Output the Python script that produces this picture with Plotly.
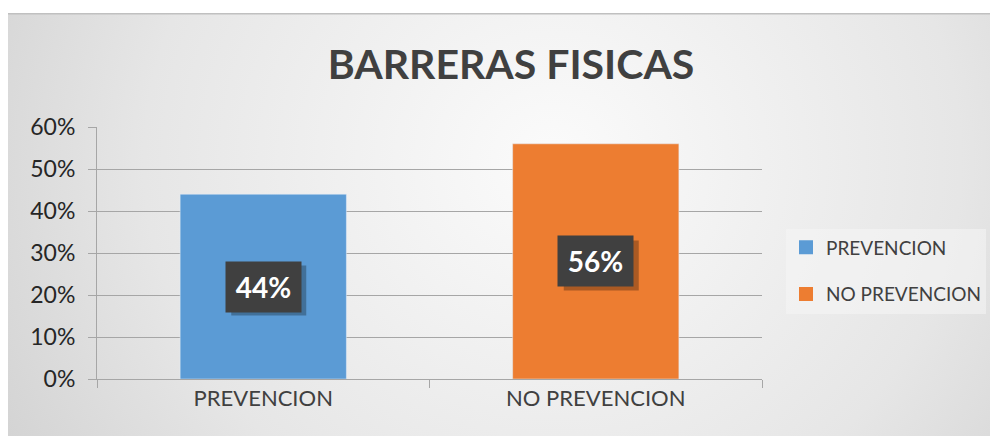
import plotly.graph_objects as go

categories = ["PREVENCION", "NO PREVENCION"]
values = [0.44, 0.56]
colors = ["#5B9BD5", "#ED7D31"]
y_ticks = [0, 0.1, 0.2, 0.3, 0.4, 0.5, 0.6]
y_tick_labels = ["0%", "10%", "20%", "30%", "40%", "50%", "60%"]
title_text = "BARRERAS FISICAS"

# the page has an 8px body margin, so the figure is drawn at (8, 8)
OFF = 8
W, H = 998 - OFF, 436 - OFF
L, R, T, B = 97 - OFF, 998 - 762, 127 - OFF, 436 - 379
pw, ph = W - L - R, H - T - B

fig = go.Figure()
for cat, val, col in zip(categories, values, colors):
    fig.add_trace(go.Bar(x=[cat], y=[val], name=cat, marker_color=col,
                         width=0.5, showlegend=False, hoverinfo="skip"))
# legend entries with larger square swatches
for cat, col in zip(categories, colors):
    fig.add_trace(go.Scatter(x=[None], y=[None], mode="markers", name=cat, legendgroup=cat,
                             marker=dict(symbol="square", size=14, color=col), hoverinfo="skip"))

# label boxes with shadow
for cat, val in zip(categories, values):
    fig.add_shape(type="rect", xref="x", yref="y", xsizemode="pixel", ysizemode="pixel",
                  xanchor=cat, yanchor=val / 2, x0=-32, x1=43, y0=-29, y1=21,
                  fillcolor="rgba(0,0,0,0.28)", line_width=0, layer="above")
    fig.add_annotation(x=cat, y=val / 2, xref="x", yref="y", text=f"<b>{round(val*100)}%</b>",
                       showarrow=False, width=73, height=48, bgcolor="#404040",
                       font=dict(family="Lato", size=28, color="white"))

svg = ("data:image/svg+xml;utf8,"
       "<svg xmlns='http://www.w3.org/2000/svg' width='990' height='423' viewBox='0 0 990 423' preserveAspectRatio='none'>"
       "<defs><radialGradient id='g' cx='0.55' cy='0.35' r='0.75' gradientTransform='translate(0.55 0.35) scale(1 2.2) translate(-0.55 -0.35)'>"
       "<stop offset='0' stop-color='%23fbfbfb'/><stop offset='0.55' stop-color='%23e6e6e6'/><stop offset='1' stop-color='%23c9c9c9'/>"
       "</radialGradient></defs><rect width='990' height='423' fill='url(%23g)'/>"
       "<line x1='0' y1='0.5' x2='990' y2='0.5' stroke='%23c0c0c0' stroke-width='2'/></svg>")
top_px = 13 - OFF
fig.add_layout_image(source=svg, xref="paper", yref="paper",
                     x=(0 - L) / pw, y=(H - B - top_px) / ph, sizex=W / pw, sizey=(H - top_px) / ph,
                     xanchor="left", yanchor="top", sizing="stretch", layer="below")

fig.update_layout(
    width=W, height=H, margin=dict(l=L, r=R, t=T, b=B, autoexpand=False),
    paper_bgcolor="white", plot_bgcolor="rgba(0,0,0,0)",
    barmode="overlay", showlegend=True,
    title=dict(text=f"<b>{title_text}</b>", x=(511 - OFF - L) / pw, xref="paper", xanchor="center",
               y=(H - (65 - OFF)) / H, yanchor="middle",
               font=dict(family="Lato", size=41, color="#404040")),
    font=dict(family="Lato", color="#404040"),
    legend=dict(x=(786 - OFF - L) / pw, xanchor="left", y=(379 - 271) / ph, yanchor="middle",
                bgcolor="rgba(245,245,245,0.55)", font=dict(size=19, color="#404040"),
                tracegroupgap=19, traceorder="grouped", itemwidth=30, itemsizing="trace"),
    xaxis=dict(showgrid=False, showline=True, linecolor="#a6a6a6", ticks="outside",
               ticklen=8, tickcolor="#a6a6a6", tickson="boundaries",
               tickfont=dict(size=22, color="#404040"), fixedrange=True),
    yaxis=dict(range=[0, 0.6], tickvals=y_ticks, ticktext=y_tick_labels,
               showgrid=True, gridcolor="#a6a6a6", gridwidth=1, zeroline=False,
               showline=True, linecolor="#a6a6a6", ticks="outside", ticklen=8,
               tickcolor="#a6a6a6", tickfont=dict(size=23, color="#262626"),
               ticklabelstandoff=8, fixedrange=True),
)

fig.write_html("out.html")
